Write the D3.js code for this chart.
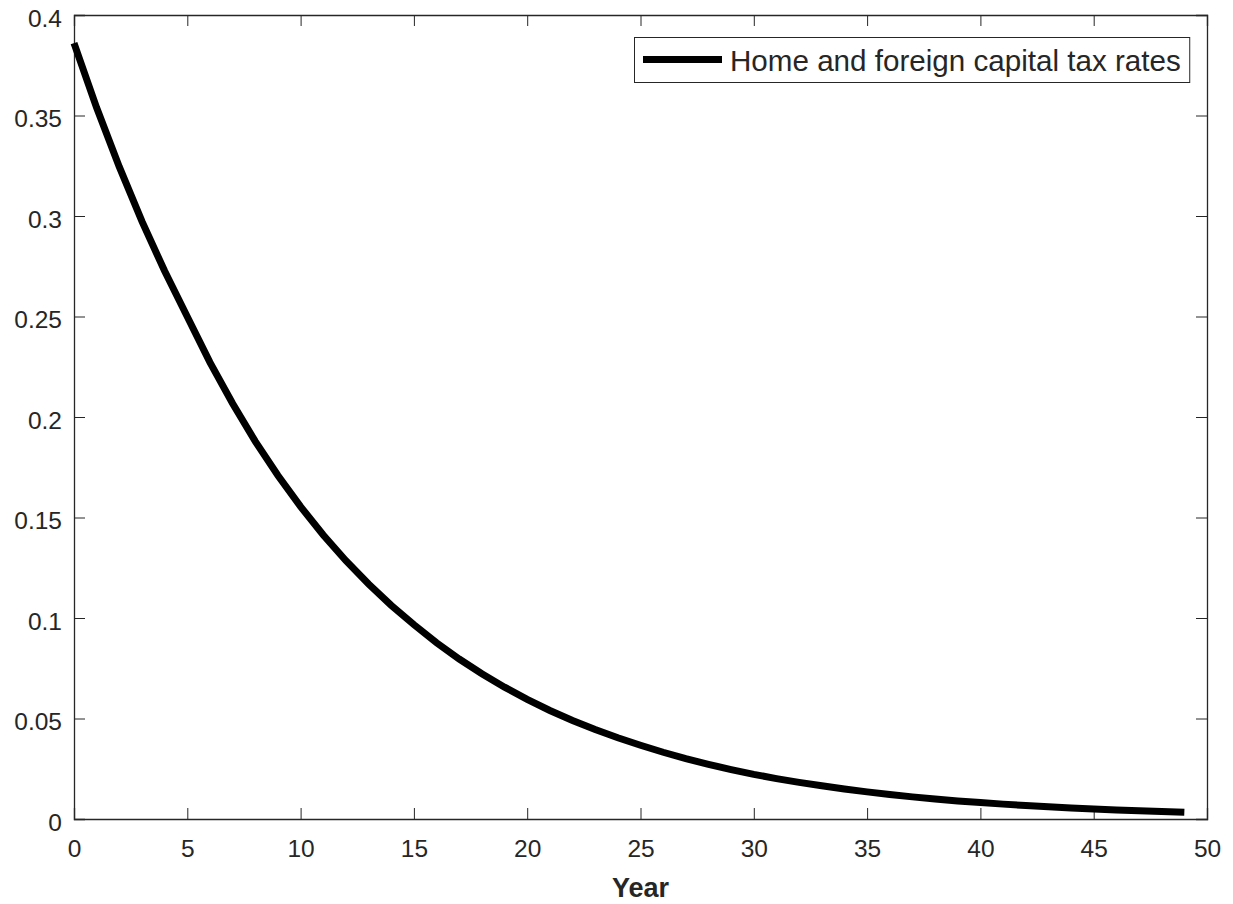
<!DOCTYPE html>
<html>
<head>
<meta charset="utf-8">
<script src="https://cdn.jsdelivr.net/npm/d3@7"></script>
<style>
  body { margin: 0; background: #fff; }
  text { font-family: "Liberation Sans", Arial, sans-serif; fill: #262626; }
</style>
</head>
<body>
<svg id="chart" width="1233" height="904"></svg>
<script>
const years = d3.range(0, 50);
const taxRates = [
  0.3860, 0.3538, 0.3244, 0.2973, 0.2726, 0.2499, 0.2272, 0.2067, 0.1879, 0.1709,
  0.1554, 0.1413, 0.1285, 0.1169, 0.1063, 0.0967, 0.0877, 0.0796, 0.0723, 0.0656,
  0.0595, 0.0540, 0.0490, 0.0445, 0.0404, 0.0367, 0.0332, 0.0300, 0.0272, 0.0246,
  0.0222, 0.0201, 0.0182, 0.0165, 0.0149, 0.0135, 0.0122, 0.0110, 0.0100, 0.0090,
  0.0082, 0.0074, 0.0067, 0.0061, 0.0055, 0.0050, 0.0045, 0.0041, 0.0037, 0.0033
];
const xTicks = [0, 5, 10, 15, 20, 25, 30, 35, 40, 45, 50];
const yTicks = [0, 0.05, 0.1, 0.15, 0.2, 0.25, 0.3, 0.35, 0.4];
const seriesName = 'Home and foreign capital tax rates';

const plotLeft = 74, plotRight = 1207, plotTop = 15, plotBottom = 819;
const svg = d3.select('#chart');

const x = d3.scaleLinear().domain([0, 50]).range([plotLeft, plotRight]);
const y = d3.scaleLinear().domain([0, 0.4]).range([plotBottom, plotTop]);
const fmt = d => String(+d.toFixed(2));

// axes, MATLAB style: ticks pointing in, mirrored on top and right
const axisColor = '#262626';
const tickLen = 11;

const gx = svg.append('g').attr('transform', `translate(0,${plotBottom})`)
  .call(d3.axisBottom(x).tickValues(xTicks).tickSize(-tickLen).tickPadding(21).tickFormat(fmt));
const gxTop = svg.append('g').attr('transform', `translate(0,${plotTop})`)
  .call(d3.axisTop(x).tickValues(xTicks).tickSize(-tickLen).tickFormat(''));
const gy = svg.append('g').attr('transform', `translate(${plotLeft},0)`)
  .call(d3.axisLeft(y).tickValues(yTicks).tickSize(-tickLen).tickPadding(12).tickFormat(fmt));
const gyRight = svg.append('g').attr('transform', `translate(${plotRight},0)`)
  .call(d3.axisRight(y).tickValues(yTicks).tickSize(-tickLen).tickFormat(''));

[gx, gxTop, gy, gyRight].forEach(g => {
  g.select('.domain').attr('stroke', axisColor).attr('stroke-width', 1.3);
  g.selectAll('.tick line').attr('stroke', axisColor).attr('stroke-width', 1);
  g.selectAll('.tick text').attr('font-size', 24.5).attr('fill', axisColor)
    .style('font-family', '"Liberation Sans", Arial, sans-serif');
});
gy.selectAll('.tick text').attr('dy', '0.45em');

svg.append('text')
  .attr('x', (plotLeft + plotRight) / 2)
  .attr('y', 897)
  .attr('text-anchor', 'middle')
  .attr('font-size', 27)
  .attr('font-weight', 'bold')
  .text('Year');

// the curve
const line = d3.line().x((d, i) => x(years[i])).y(d => y(d));
svg.append('path')
  .datum(taxRates)
  .attr('d', line)
  .attr('fill', 'none')
  .attr('stroke', '#000')
  .attr('stroke-width', 7);

// legend
const lg = svg.append('g');
const box = lg.append('rect')
  .attr('x', 634.5).attr('y', 37.5)
  .attr('height', 45)
  .attr('fill', '#fff')
  .attr('stroke', axisColor)
  .attr('stroke-width', 1);
lg.append('line')
  .attr('x1', 643).attr('x2', 722)
  .attr('y1', 59.5).attr('y2', 59.5)
  .attr('stroke', '#000')
  .attr('stroke-width', 7);
const label = lg.append('text')
  .attr('x', 730)
  .attr('y', 71)
  .attr('font-size', 29.6)
  .attr('fill', '#000')
  .text(seriesName);
const tb = label.node().getBBox();
box.attr('width', tb.x + tb.width + 9 - 634.5);
</script>
</body>
</html>
